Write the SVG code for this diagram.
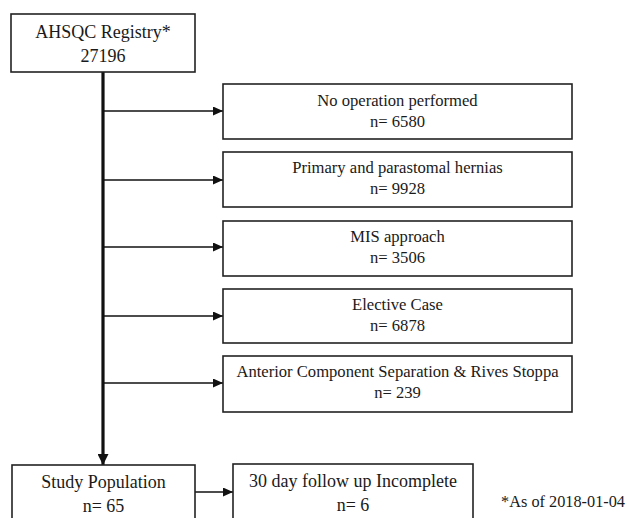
<svg xmlns="http://www.w3.org/2000/svg" width="628" height="518" viewBox="0 0 628 518">
<defs>
<style>
.box{fill:#fff;stroke:#222;stroke-width:1.6}
.t{font-family:"Liberation Serif","Times New Roman",serif;fill:#1a1a1a;text-anchor:middle}
.s18{font-size:18px}
.s16{font-size:16.6px}
.link{stroke:#111;stroke-width:1.5;fill:none}
.trunk{stroke:#111;stroke-width:3.2;fill:none}
</style>
<marker id="ah" viewBox="0 0 10 10" refX="10" refY="5" markerWidth="10" markerHeight="9" markerUnits="userSpaceOnUse" orient="auto" preserveAspectRatio="none">
<path d="M0,0 L10,5 L0,10 z" fill="#111"/>
</marker>
<marker id="ahb" viewBox="0 0 10 10" refX="10" refY="5" markerWidth="11" markerHeight="11" markerUnits="userSpaceOnUse" orient="auto">
<path d="M0,0 L10,5 L0,10 z" fill="#111"/>
</marker>
</defs>
<rect width="628" height="518" fill="#fff"/>
<g id="connectors">
<line class="trunk" x1="103" y1="72" x2="103" y2="465" marker-end="url(#ahb)"/>
<line class="link" x1="103" y1="111" x2="223" y2="111" marker-end="url(#ah)"/>
<line class="link" x1="103" y1="180" x2="223" y2="180" marker-end="url(#ah)"/>
<line class="link" x1="103" y1="247" x2="223" y2="247" marker-end="url(#ah)"/>
<line class="link" x1="103" y1="316" x2="223" y2="316" marker-end="url(#ah)"/>
<line class="link" x1="103" y1="383" x2="223" y2="383" marker-end="url(#ah)"/>
<line class="link" x1="195" y1="492" x2="233" y2="492" marker-end="url(#ah)"/>
</g>
<g id="registry">
<rect class="box" x="11" y="14" width="184" height="58"/>
<text class="t s18" x="103" y="38">AHSQC Registry*</text>
<text class="t s18" x="103" y="62">27196</text>
</g>
<g id="no-operation">
<rect class="box" x="223" y="84" width="349" height="55"/>
<text class="t s16" x="397.5" y="106">No operation performed</text>
<text class="t s16" x="397.5" y="127">n= 6580</text>
</g>
<g id="primary">
<rect class="box" x="223" y="152" width="349" height="55"/>
<text class="t s16" x="397.5" y="173">Primary and parastomal hernias</text>
<text class="t s16" x="397.5" y="194">n= 9928</text>
</g>
<g id="mis">
<rect class="box" x="223" y="221" width="349" height="55"/>
<text class="t s16" x="397.5" y="242">MIS approach</text>
<text class="t s16" x="397.5" y="263">n= 3506</text>
</g>
<g id="elective">
<rect class="box" x="223" y="289" width="349" height="54"/>
<text class="t s16" x="397.5" y="310">Elective Case</text>
<text class="t s16" x="397.5" y="331">n= 6878</text>
</g>
<g id="acs">
<rect class="box" x="223" y="356" width="349" height="56"/>
<text class="t s16" x="397.5" y="377">Anterior Component Separation &amp; Rives Stoppa</text>
<text class="t s16" x="397.5" y="398">n= 239</text>
</g>
<g id="study">
<rect class="box" x="12" y="465" width="183" height="70"/>
<text class="t s18" x="103.5" y="488">Study Population</text>
<text class="t s18" x="103.5" y="512">n= 65</text>
</g>
<g id="followup">
<rect class="box" x="233" y="464" width="240" height="70"/>
<text class="t s18" x="353" y="487">30 day follow up Incomplete</text>
<text class="t s18" x="353" y="511">n= 6</text>
</g>
<g id="footnote">
<text class="t" style="font-size:16.3px;text-anchor:end" x="625" y="507">*As of 2018-01-04</text>
</g>
</svg>
